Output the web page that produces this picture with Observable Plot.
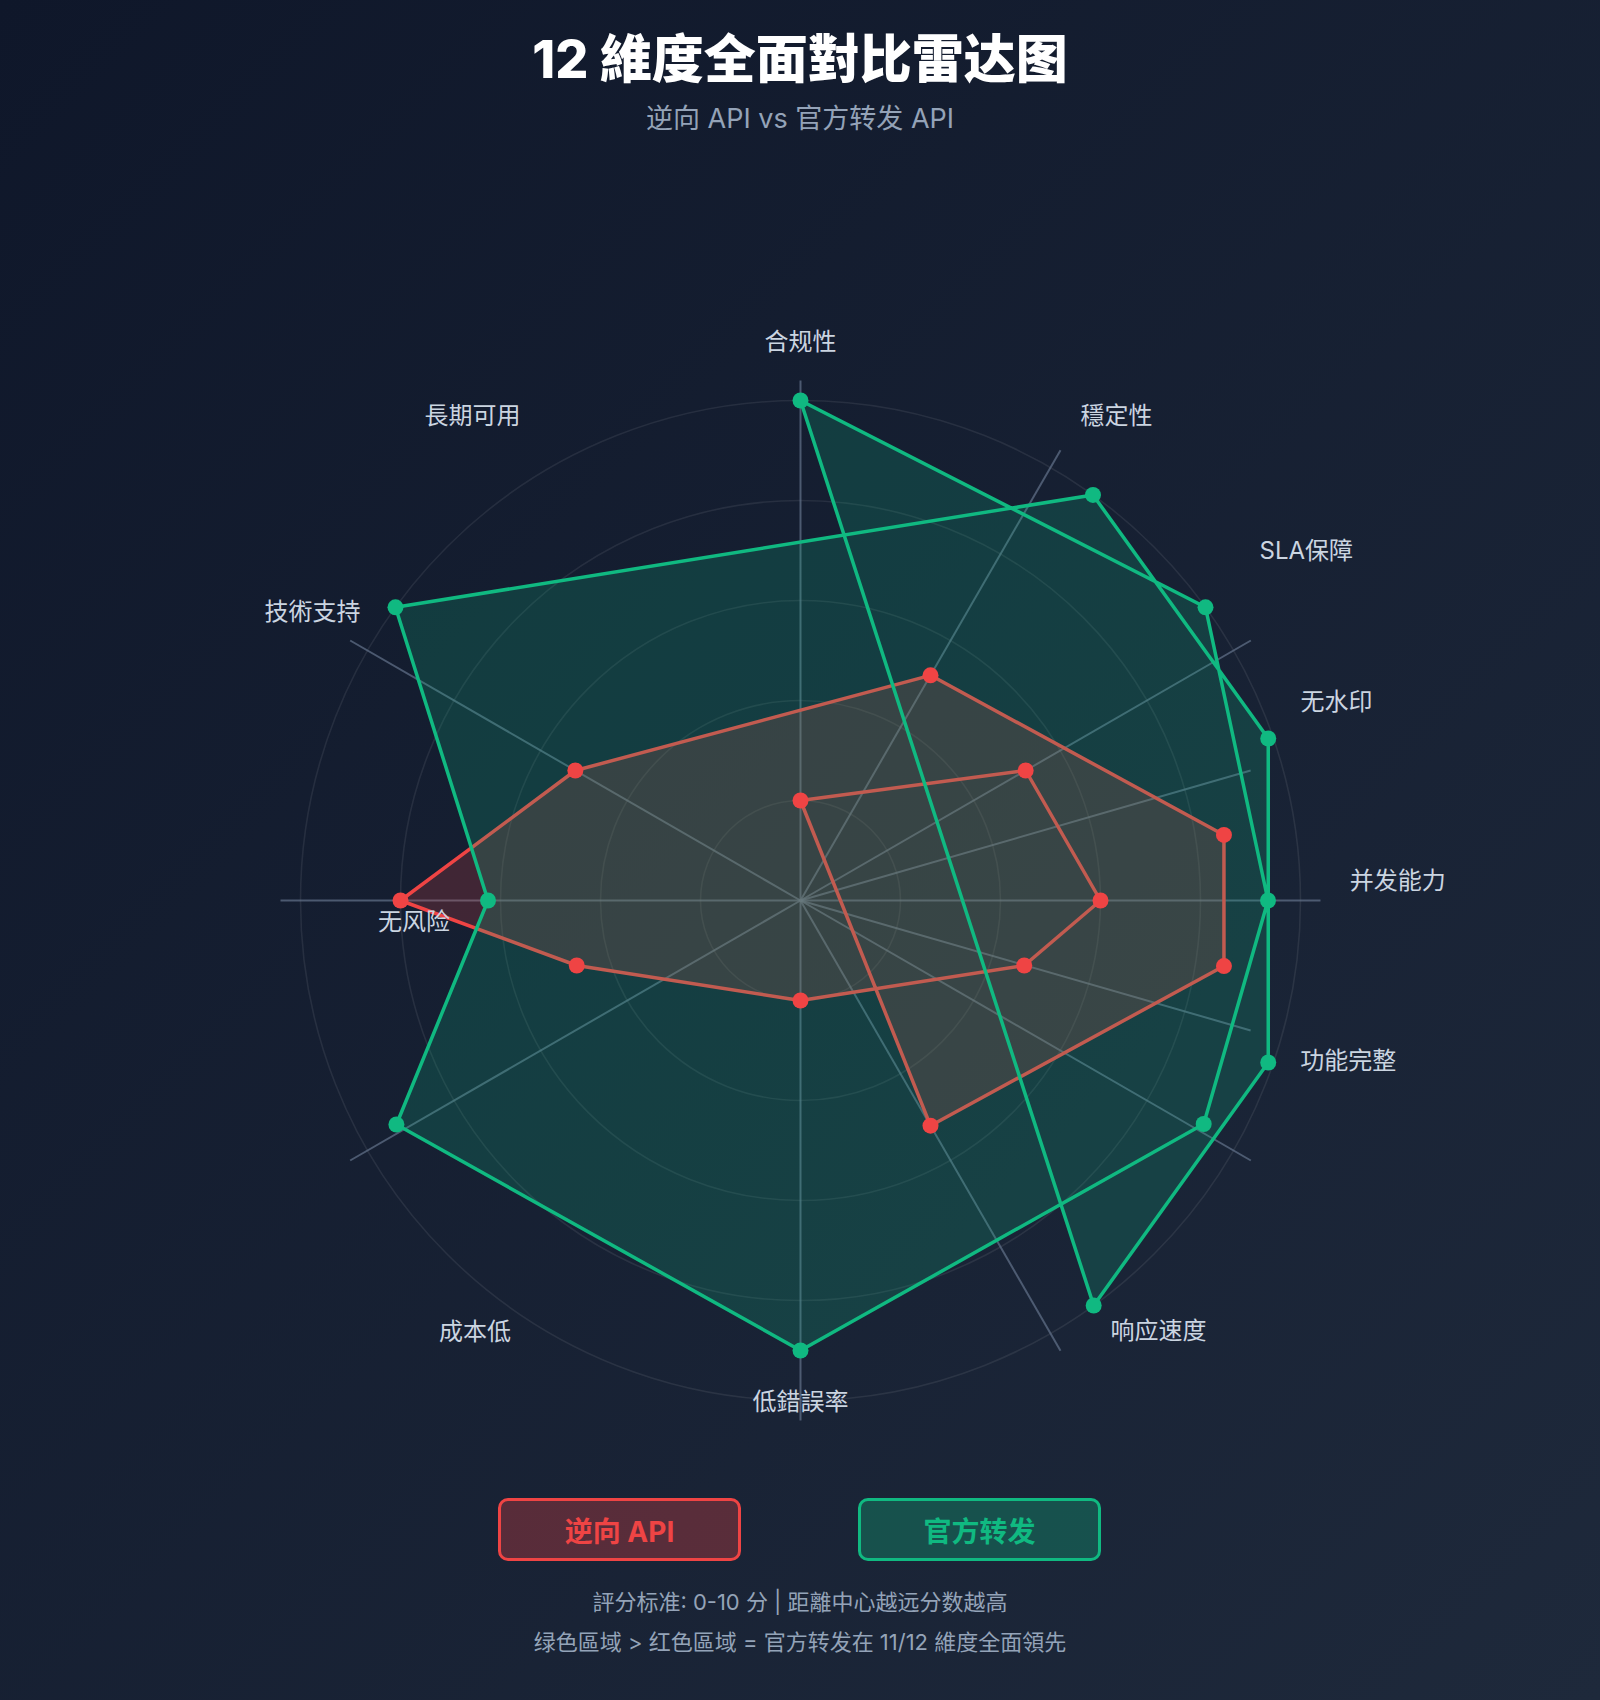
<!DOCTYPE html>
<html>
<head>
<meta charset="utf-8">
<script src="https://cdn.jsdelivr.net/npm/d3@7"></script>
<script src="https://cdn.jsdelivr.net/npm/@observablehq/plot@0.6"></script>
<style>
  html, body { margin: 0; padding: 0; }
  body {
    width: 1600px; height: 1700px; overflow: hidden;
    background: linear-gradient(135deg, #0f172a 0%, #1e293b 100%);
    font-family: "Inter", "Noto Sans CJK SC", sans-serif;
  }
  #wrap { position: relative; width: 1600px; height: 1700px; }
  .title { position: absolute; left: 0; width: 1600px; text-align: center; top: 29px;
    font-size: 52px; line-height: 62px; font-weight: 800; color: #ffffff; }
  .subtitle { position: absolute; left: 0; width: 1600px; text-align: center; top: 103px;
    font-size: 27px; line-height: 32px; color: #94a3b8; }
  #chart { position: absolute; left: 0; top: 250px; width: 1600px; height: 1300px; }
  .legend-box { position: absolute; top: 1498px; width: 243px; height: 63px; box-sizing: border-box;
    border-radius: 10px; border: 3px solid; display: flex; align-items: center; justify-content: center;
    font-size: 28px; font-weight: 700; }
  .foot { position: absolute; left: 0; width: 1600px; text-align: center; font-size: 22px;
    line-height: 26px; color: #94a3b8; }
</style>
</head>
<body>
<div id="wrap">
  <div class="title" id="title"></div>
  <div class="subtitle" id="subtitle"></div>
  <div id="chart"></div>
  <div class="legend-box" id="lgRed"></div>
  <div class="legend-box" id="lgGreen"></div>
  <div class="foot" id="foot1" style="top:1589px"></div>
  <div class="foot" id="foot2" style="top:1629px"></div>
</div>
<script>
// ---------- data ----------
const titleText = "12 維度全面對比雷达图";
const subtitleText = "逆向 API vs 官方转发 API";
const seriesNames = ["逆向 API", "官方转发"];
const footnotes = ["評分标准: 0-10 分 | 距離中心越远分数越高", "绿色區域 > 红色區域 = 官方转发在 11/12 維度全面領先"];

// dimension labels and where each sits (bearing in degrees, distance in score units)
const dimensions = ["合规性", "穩定性", "SLA保障", "无水印", "并发能力", "功能完整", "响应速度", "低錯誤率", "成本低", "无风险", "技術支持", "長期可用"];
const labelAngle = [90, 56.9, 34.6, 20.3, 1.8, -16.4, -50.3, -90, -127, 183.2, 149.4, 124.1];
const labelRadius = [11.16, 11.57, 12.29, 11.43, 11.95, 11.42, 11.21, 10.03, 10.82, 7.74, 11.34, 11.70];

// grid
const rings = [2, 4, 6, 8, 10];
const spokeAngle = [90, 60, 30, 16.1, 0, -16.1, -30, -60, -90, -150, 180, 150];
const spokeLength = [10.4, 10.4, 10.4, 9.37, 10.4, 9.37, 10.4, 10.4, 10.4, 10.4, 10.4, 10.4];

// series vertices, in the order the outline is drawn (score, bearing in degrees)
const reverseScore = [2, 5.2, 6, 4.66, 2, 4.66, 8, 5.2, 5.2, 8.57, 8.57, 5.2];
const reverseAngle = [90, 30, 0, -16.2, -90, -163.8, 180, 150, 60, 8.8, -8.8, -60];
const officialScore = [10, 10, 9.35, 9.22, 9, 9.24, 6.25, 10, 10, 9.9, 9.9, 10];
const officialAngle = [90, 35.9, 0, -29, -90, -151, 180, 144.1, 54.2, 19.1, -19.1, -54.1];

const RED = "#ef4444", GREEN = "#10b981";

// ---------- build ----------
const rad = a => a * Math.PI / 180;
const toXY = (r, a) => ({x: r * Math.cos(rad(a)), y: r * Math.sin(rad(a))});

const labels = dimensions.map((name, i) => ({name, ...toXY(labelRadius[i], labelAngle[i])}));
const spokes = spokeAngle.map((a, i) => toXY(spokeLength[i], a));
const redPts = reverseScore.map((s, i) => toXY(s, reverseAngle[i]));
const greenPts = officialScore.map((s, i) => toXY(s, officialAngle[i]));

const font = "Inter, 'Noto Sans CJK SC', sans-serif";

const chart = Plot.plot({
  width: 1600,
  height: 1300,
  margin: 0,
  x: {domain: [-16, 16], axis: null},
  y: {domain: [-13, 13], axis: null},
  r: {type: "linear", domain: [0, 10], range: [0, 500]},
  style: {background: "transparent", overflow: "visible"},
  marks: [
    Plot.dot(rings, {x: () => 0, y: () => 0, r: d => d, fill: "none", stroke: "#ffffff", strokeOpacity: 0.08, strokeWidth: 1.6}),
    Plot.link(spokes, {x1: () => 0, y1: () => 0, x2: "x", y2: "y", stroke: "#64748b", strokeOpacity: 0.7, strokeWidth: 2}),
    Plot.line(redPts, {x: "x", y: "y", curve: "linear-closed", fill: RED, fillOpacity: 0.2, stroke: RED, strokeWidth: 3.5}),
    Plot.line(greenPts, {x: "x", y: "y", curve: "linear-closed", fill: GREEN, fillOpacity: 0.2, stroke: GREEN, strokeWidth: 3.5}),
    Plot.dot(redPts, {x: "x", y: "y", r: 8, fill: RED}),
    Plot.dot(greenPts, {x: "x", y: "y", r: 8, fill: GREEN}),
    Plot.text(labels, {x: "x", y: "y", text: "name", fill: "#cbd5e1", fontSize: 24, fontFamily: font})
  ]
});
document.getElementById("chart").appendChild(chart);

document.getElementById("title").textContent = titleText;
document.getElementById("subtitle").textContent = subtitleText;
const lgR = document.getElementById("lgRed");
lgR.textContent = seriesNames[0];
Object.assign(lgR.style, {left: "498px", borderColor: RED, color: RED, background: "rgba(239,68,68,0.3)"});
const lgG = document.getElementById("lgGreen");
lgG.textContent = seriesNames[1];
Object.assign(lgG.style, {left: "858px", borderColor: GREEN, color: GREEN, background: "rgba(16,185,129,0.3)"});
document.getElementById("foot1").textContent = footnotes[0];
document.getElementById("foot2").textContent = footnotes[1];
</script>
</body>
</html>
